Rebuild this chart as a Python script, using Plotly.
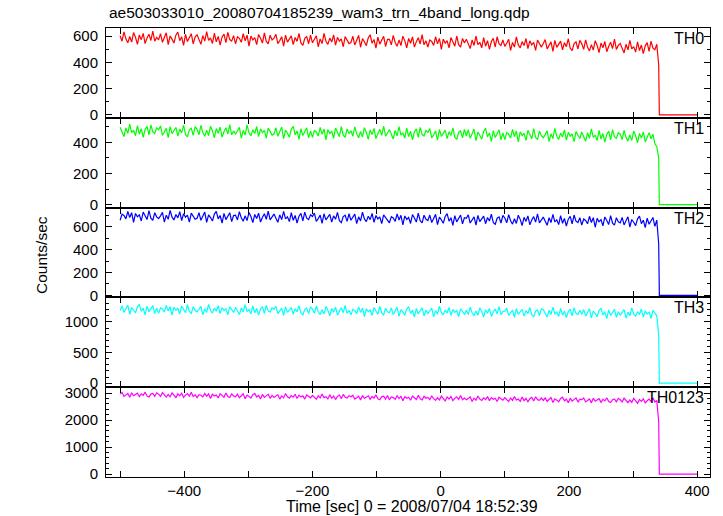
import numpy as np
import plotly.graph_objects as go
from plotly.subplots import make_subplots

# Light-curve bins (sec): first bin time and bin width before the drop
t_start, t_step = -500, 3
# tail: drop point and the zero level afterwards
tail_times = [340, 341, 400]

th0 = [603, 561, 633, 579, 549, 597, 555, 627, 591, 537, 609, 573, 621, 543, 585, 615, 567, 639, 561, 591,
       571, 619, 553, 589, 625, 535, 601, 577, 547, 607, 631, 565, 595, 529, 613, 559, 589, 619, 541, 595,
       610, 574, 538, 604, 562, 634, 568, 586, 544, 622, 556, 598, 532, 592, 616, 550, 628, 574, 562, 604,
       541, 595, 583, 553, 619, 565, 607, 523, 601, 571, 589, 535, 613, 583, 547, 625, 559, 541, 607, 571,
       584, 614, 542, 566, 596, 524, 608, 554, 578, 602, 536, 590, 560, 620, 548, 530, 584, 596, 542, 608,
       549, 573, 603, 519, 579, 543, 621, 561, 537, 585, 555, 609, 531, 591, 561, 579, 519, 597, 573, 543,
       551, 599, 533, 569, 605, 515, 581, 557, 527, 587, 611, 545, 575, 509, 593, 539, 569, 599, 521, 575,
       576, 534, 606, 552, 522, 570, 528, 600, 564, 510, 582, 546, 594, 516, 558, 588, 540, 612, 534, 564,
       517, 571, 559, 529, 595, 541, 583, 499, 577, 547, 565, 511, 589, 559, 523, 601, 535, 517, 583, 547,
       577, 541, 505, 571, 529, 601, 535, 553, 511, 589, 523, 565, 499, 559, 583, 517, 595, 541, 529, 571,
       522, 546, 576, 492, 552, 516, 594, 534, 510, 558, 528, 582, 504, 564, 534, 552, 492, 570, 546, 516,
       544, 574, 502, 526, 556, 484, 568, 514, 538, 562, 496, 550, 520, 580, 508, 490, 544, 556, 502, 568,
       541, 499, 571, 517, 487, 535, 493, 565, 529, 475, 547, 511, 559, 481, 523, 553, 505, 577, 499, 529,
       544, 508, 472, 538, 496, 568, 502, 520, 478, 556, 490, 532, 466, 526, 550, 484, 562, 508, 496, 538]
th0_tail = [380, 0, 0]

th1 = [497, 467, 437, 492, 457, 517, 462, 477, 442, 507, 452, 487, 432, 482, 502, 447, 512, 467, 457, 492,
       480, 505, 445, 465, 490, 430, 500, 455, 475, 495, 440, 485, 460, 510, 450, 435, 480, 490, 445, 500,
       483, 448, 508, 463, 438, 478, 443, 503, 473, 428, 488, 458, 498, 433, 468, 493, 453, 513, 448, 473,
       451, 471, 496, 426, 476, 446, 511, 461, 441, 481, 456, 501, 436, 486, 461, 476, 426, 491, 471, 446,
       453, 493, 438, 468, 498, 423, 478, 458, 433, 483, 503, 448, 473, 418, 488, 443, 468, 493, 428, 473,
       431, 476, 466, 441, 496, 451, 486, 416, 481, 456, 471, 426, 491, 466, 436, 501, 446, 431, 486, 456,
       474, 439, 499, 454, 429, 469, 434, 494, 464, 419, 479, 449, 489, 424, 459, 484, 444, 504, 439, 464,
       481, 451, 421, 476, 441, 501, 446, 461, 426, 491, 436, 471, 416, 466, 486, 431, 496, 451, 441, 476,
       463, 488, 428, 448, 473, 413, 483, 438, 458, 478, 423, 468, 443, 493, 433, 418, 463, 473, 428, 483,
       440, 480, 425, 455, 485, 410, 465, 445, 420, 470, 490, 435, 460, 405, 475, 430, 455, 480, 415, 460,
       417, 462, 452, 427, 482, 437, 472, 402, 467, 442, 457, 412, 477, 452, 422, 487, 432, 417, 472, 442,
       429, 449, 474, 404, 454, 424, 489, 439, 419, 459, 434, 479, 414, 464, 439, 454, 404, 469, 449, 424,
       466, 436, 406, 461, 426, 486, 431, 446, 411, 476, 421, 456, 401, 451, 471, 416, 481, 436, 426, 461,
       452, 417, 477, 432, 407, 447, 412, 472, 442, 397, 457, 427, 467, 402, 437, 462, 422, 452, 390, 372]
th1_tail = [300, 0, 0]

th2 = [657, 711, 699, 669, 735, 681, 723, 639, 717, 687, 705, 651, 729, 699, 663, 741, 675, 657, 723, 687,
       672, 696, 726, 642, 702, 666, 744, 684, 660, 708, 678, 732, 654, 714, 684, 702, 642, 720, 696, 666,
       675, 723, 657, 693, 729, 639, 705, 681, 651, 711, 735, 669, 699, 633, 717, 663, 693, 723, 645, 699,
       702, 660, 732, 678, 648, 696, 654, 726, 690, 636, 708, 672, 720, 642, 684, 714, 666, 738, 660, 690,
       711, 675, 639, 705, 663, 735, 669, 687, 645, 723, 657, 699, 633, 693, 717, 651, 729, 675, 663, 705,
       690, 720, 648, 672, 702, 630, 714, 660, 684, 708, 642, 696, 666, 726, 654, 636, 690, 702, 648, 714,
       657, 681, 711, 627, 687, 651, 729, 669, 645, 693, 663, 717, 639, 699, 669, 687, 627, 705, 681, 651,
       635, 689, 677, 647, 713, 659, 701, 617, 695, 665, 683, 629, 707, 677, 641, 719, 653, 635, 701, 665,
       655, 703, 637, 673, 709, 619, 685, 661, 631, 691, 715, 649, 679, 613, 697, 643, 673, 703, 625, 679,
       675, 705, 633, 657, 687, 615, 699, 645, 669, 693, 627, 681, 651, 711, 639, 621, 675, 687, 633, 699,
       677, 635, 707, 653, 623, 671, 629, 701, 665, 611, 683, 647, 695, 617, 659, 689, 641, 713, 635, 665,
       685, 649, 613, 679, 637, 709, 643, 661, 619, 697, 631, 673, 607, 667, 691, 625, 703, 649, 637, 679,
       614, 668, 656, 626, 692, 638, 680, 596, 674, 644, 662, 608, 686, 656, 620, 698, 632, 614, 680, 644,
       634, 682, 616, 652, 688, 598, 664, 640, 610, 670, 694, 628, 658, 592, 676, 622, 652, 682, 604, 658]
th2_tail = [450, 0, 0]

th3 = [1185, 1265, 1155, 1215, 1275, 1125, 1235, 1195, 1145, 1245, 1285, 1175, 1225, 1115, 1255, 1165, 1215, 1265, 1135, 1225,
       1140, 1230, 1210, 1160, 1270, 1180, 1250, 1110, 1240, 1190, 1220, 1130, 1260, 1210, 1150, 1280, 1170, 1140, 1250, 1190,
       1165, 1205, 1255, 1115, 1215, 1155, 1285, 1185, 1145, 1225, 1175, 1265, 1135, 1235, 1185, 1215, 1115, 1245, 1205, 1155,
       1240, 1180, 1120, 1230, 1160, 1280, 1170, 1200, 1130, 1260, 1150, 1220, 1110, 1210, 1250, 1140, 1270, 1180, 1160, 1230,
       1205, 1255, 1135, 1175, 1225, 1105, 1245, 1155, 1195, 1235, 1125, 1215, 1165, 1265, 1145, 1115, 1205, 1225, 1135, 1245,
       1210, 1140, 1260, 1170, 1120, 1200, 1130, 1250, 1190, 1100, 1220, 1160, 1240, 1110, 1180, 1230, 1150, 1270, 1140, 1190,
       1115, 1205, 1185, 1135, 1245, 1155, 1225, 1085, 1215, 1165, 1195, 1105, 1235, 1185, 1125, 1255, 1145, 1115, 1225, 1165,
       1150, 1230, 1120, 1180, 1240, 1090, 1200, 1160, 1110, 1210, 1250, 1140, 1190, 1080, 1220, 1130, 1180, 1230, 1100, 1190,
       1135, 1175, 1225, 1085, 1185, 1125, 1255, 1155, 1115, 1195, 1145, 1235, 1105, 1205, 1155, 1185, 1085, 1215, 1175, 1125,
       1190, 1120, 1240, 1150, 1100, 1180, 1110, 1230, 1170, 1080, 1200, 1140, 1220, 1090, 1160, 1210, 1130, 1250, 1120, 1170,
       1175, 1225, 1105, 1145, 1195, 1075, 1215, 1125, 1165, 1205, 1095, 1185, 1135, 1235, 1115, 1085, 1175, 1195, 1105, 1215,
       1200, 1140, 1080, 1190, 1120, 1240, 1130, 1160, 1090, 1220, 1110, 1180, 1070, 1170, 1210, 1100, 1230, 1140, 1120, 1190,
       1125, 1205, 1095, 1155, 1215, 1065, 1175, 1135, 1085, 1185, 1225, 1115, 1165, 1055, 1195, 1105, 1155, 1205, 1075, 1165,
       1110, 1150, 1200, 1060, 1160, 1100, 1230, 1130, 1090, 1170, 1120, 1210, 1080, 1180, 1130, 1160, 1060, 1190, 1150, 1100]
th3_tail = [780, 0, 0]

th0123 = [2964, 3024, 2880, 2928, 2988, 2844, 3012, 2904, 2952, 3000, 2868, 2976, 2916, 3036, 2892, 2856, 2964, 2988, 2880, 3012,
          2961, 2877, 3021, 2913, 2853, 2949, 2865, 3009, 2937, 2829, 2973, 2901, 2997, 2841, 2925, 2985, 2889, 3033, 2877, 2937,
          2836, 2944, 2920, 2860, 2992, 2884, 2968, 2800, 2956, 2896, 2932, 2824, 2980, 2920, 2848, 3004, 2872, 2836, 2968, 2896,
          2867, 2963, 2831, 2903, 2975, 2795, 2927, 2879, 2819, 2939, 2987, 2855, 2915, 2783, 2951, 2843, 2903, 2963, 2807, 2915,
          2838, 2886, 2946, 2778, 2898, 2826, 2982, 2862, 2814, 2910, 2850, 2958, 2802, 2922, 2862, 2898, 2778, 2934, 2886, 2826,
          2917, 2845, 2773, 2905, 2821, 2965, 2833, 2869, 2785, 2941, 2809, 2893, 2761, 2881, 2929, 2797, 2953, 2845, 2821, 2905,
          2864, 2924, 2780, 2828, 2888, 2744, 2912, 2804, 2852, 2900, 2768, 2876, 2816, 2936, 2792, 2756, 2864, 2888, 2780, 2912,
          2750, 2858, 2834, 2774, 2906, 2798, 2882, 2714, 2870, 2810, 2846, 2738, 2894, 2834, 2762, 2918, 2786, 2750, 2882, 2810,
          2841, 2757, 2901, 2793, 2733, 2829, 2745, 2889, 2817, 2709, 2853, 2781, 2877, 2721, 2805, 2865, 2769, 2913, 2757, 2817,
          2752, 2800, 2860, 2692, 2812, 2740, 2896, 2776, 2728, 2824, 2764, 2872, 2716, 2836, 2776, 2812, 2692, 2848, 2800, 2740,
          2830, 2758, 2686, 2818, 2734, 2878, 2746, 2782, 2698, 2854, 2722, 2806, 2674, 2794, 2842, 2710, 2866, 2758, 2734, 2818,
          2728, 2824, 2692, 2764, 2836, 2656, 2788, 2740, 2680, 2800, 2848, 2716, 2776, 2644, 2812, 2704, 2764, 2824, 2668, 2776,
          2759, 2819, 2675, 2723, 2783, 2639, 2807, 2699, 2747, 2795, 2663, 2771, 2711, 2831, 2687, 2651, 2759, 2783, 2675, 2807,
          2754, 2670, 2814, 2706, 2646, 2742, 2658, 2802, 2730, 2622, 2766, 2694, 2790, 2634, 2718, 2778, 2682, 2826, 2670, 2730]
th0123_tail = [1940, 0, 0]

band_names = ["TH0", "TH1", "TH2", "TH3", "TH0123"]
band_values = [th0, th1, th2, th3, th0123]
band_tails = [th0_tail, th1_tail, th2_tail, th3_tail, th0123_tail]
band_colors = ["#ff0000", "#00ff00", "#0000ff", "#00ffff", "#ff00ff"]
y_ranges = [[-23, 662], [-19, 557], [-18, 768], [-65, 1400], [-110, 3220]]
y_dticks = [200, 200, 200, 500, 1000]
y_minor = [100, 100, 100, 100, 200]

title_text = "ae503033010_20080704185239_wam3_trn_4band_long.qdp"
x_label = "Time [sec] 0 = 2008/07/04 18:52:39"
y_label = "Counts/sec"

FONT = "Liberation Sans, Arial, Helvetica, sans-serif"
W, H = 723, 516
ml, mr, mt, mb = 106, 13, 28, 39
plot_h = H - mt - mb
plot_w = W - ml - mr

fig = make_subplots(rows=5, cols=1, shared_xaxes=True, vertical_spacing=0)

for i, (name, vals, tail, col) in enumerate(zip(band_names, band_values, band_tails, band_colors)):
    times = t_start + t_step * np.arange(len(vals))
    xs = list(times) + tail_times
    ys = list(vals) + list(tail)
    fig.add_trace(go.Scatter(x=xs, y=ys, mode="lines",
                             line=dict(color=col, width=1.2),
                             showlegend=False, hoverinfo="skip"),
                  row=i + 1, col=1)
    fig.update_yaxes(range=y_ranges[i], dtick=y_dticks[i], tick0=0,
                     ticks="inside", ticklen=6, tickwidth=1, tickcolor="black",
                     minor=dict(dtick=y_minor[i], ticks="inside", ticklen=3,
                                tickcolor="black", tickwidth=1),
                     showline=True, linecolor="black", linewidth=1,
                     mirror="allticks", showgrid=False, zeroline=False,
                     tickfont=dict(family=FONT, size=15, color="black"),
                     ticklabelstandoff=4,
                     row=i + 1, col=1)
    fig.update_xaxes(range=[-522, 420], dtick=200, tick0=0,
                     ticks="inside", ticklen=6, tickwidth=1, tickcolor="black",
                     minor=dict(dtick=100, ticks="inside", ticklen=6,
                                tickcolor="black", tickwidth=1),
                     showline=True, linecolor="black", linewidth=1,
                     mirror="allticks", showgrid=False, zeroline=False,
                     showticklabels=(i == 4),
                     tickfont=dict(family=FONT, size=15, color="black"),
                     row=i + 1, col=1)
    yref = "y domain" if i == 0 else f"y{i + 1} domain"
    fig.add_annotation(text=name, xref="paper", x=(706 - ml) / plot_w,
                       xanchor="right", yref=yref, y=1 - 10.5 / (plot_h / 5),
                       yanchor="middle", showarrow=False,
                       font=dict(family=FONT, size=16, color="black"))

fig.add_annotation(text=title_text, xref="paper", yref="paper",
                   x=(107 - ml) / plot_w, xanchor="left",
                   y=1 + (mt - 13) / plot_h, yanchor="middle", showarrow=False,
                   font=dict(family=FONT, size=15.5, color="black"))
fig.add_annotation(text=x_label, xref="paper", yref="paper",
                   x=(412 - ml) / plot_w, xanchor="center",
                   y=-(507 - (H - mb)) / plot_h, yanchor="middle", showarrow=False,
                   font=dict(family=FONT, size=16, color="black"))
fig.add_annotation(text=y_label, xref="paper", yref="paper",
                   x=(41 - ml) / plot_w, xanchor="center",
                   y=((H - mb) - 255) / plot_h, yanchor="middle", textangle=-90,
                   showarrow=False,
                   font=dict(family=FONT, size=15.5, color="black"))

fig.update_layout(width=W, height=H, margin=dict(l=ml, r=mr, t=mt, b=mb),
                  paper_bgcolor="white", plot_bgcolor="white",
                  font=dict(family=FONT, color="black"))

fig.write_html("out.html", config={"displayModeBar": False},
               post_script="document.body.style.margin='0px';document.body.style.overflow='hidden';")
